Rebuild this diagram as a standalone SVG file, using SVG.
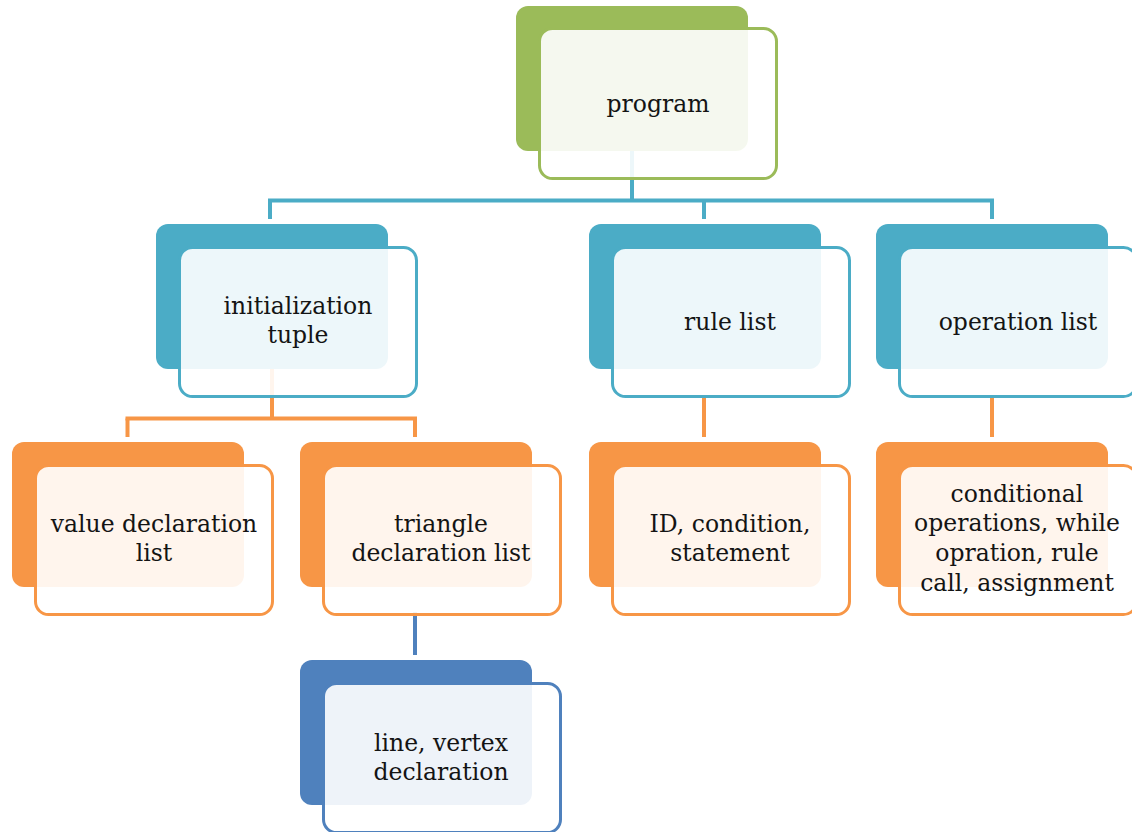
<svg xmlns="http://www.w3.org/2000/svg" width="1132" height="832" viewBox="0 0 1132 832">
<style>
.back{stroke:none}
.front{fill:#ffffff;fill-opacity:0.9;stroke-width:3}
.g .back{fill:#9BBB59}.g .front{stroke:#9BBB59}
.c .back{fill:#4BACC6}.c .front{stroke:#4BACC6}
.o .back{fill:#F79646}.o .front{stroke:#F79646}
.b .back{fill:#4F81BD}.b .front{stroke:#4F81BD}
text{font-family:"DejaVu Serif","Liberation Serif",serif;font-size:23.5px;fill:#141414;text-anchor:middle}
.conn line{stroke-width:4;fill:none}
</style>
<rect width="1132" height="832" fill="#ffffff"/>
<g id="connectors" class="conn">
<g stroke="#4BACC6">
<line x1="632" y1="150" x2="632" y2="200.5"/>
<line x1="268" y1="200.5" x2="994" y2="200.5"/>
<line x1="270" y1="200.5" x2="270" y2="219"/>
<line x1="704" y1="200.5" x2="704" y2="219"/>
<line x1="992" y1="200.5" x2="992" y2="219"/>
</g>
<g stroke="#F79646">
<line x1="272" y1="368" x2="272" y2="418.5"/>
<line x1="125.5" y1="418.5" x2="417" y2="418.5"/>
<line x1="127.5" y1="418.5" x2="127.5" y2="437"/>
<line x1="415" y1="418.5" x2="415" y2="437"/>
<line x1="704" y1="396" x2="704" y2="437"/>
<line x1="992" y1="396" x2="992" y2="437"/>
</g>
<g stroke="#4F81BD">
<line x1="415" y1="612" x2="415" y2="655"/>
</g>
</g>
<g id="n-program" class="g">
<rect class="back" x="516" y="6" width="232" height="145" rx="12"/>
<rect class="front" x="539.5" y="28.5" width="237" height="150" rx="13"/>
<text x="658" y="112">program</text>
</g>
<g id="n-init" class="c">
<rect class="back" x="156" y="224" width="232" height="145" rx="12"/>
<rect class="front" x="179.5" y="247.5" width="237" height="149" rx="13"/>
<text x="298" y="314">initialization</text>
<text x="298" y="343">tuple</text>
</g>
<g id="n-rule" class="c">
<rect class="back" x="589" y="224" width="232" height="145" rx="12"/>
<rect class="front" x="612.5" y="247.5" width="237" height="149" rx="13"/>
<text x="730" y="330">rule list</text>
</g>
<g id="n-op" class="c">
<rect class="back" x="876" y="224" width="232" height="145" rx="12"/>
<rect class="front" x="899.5" y="247.5" width="237" height="149" rx="13"/>
<text x="1018" y="330">operation list</text>
</g>
<g id="n-value" class="o">
<rect class="back" x="12" y="442" width="232" height="145" rx="12"/>
<rect class="front" x="35.5" y="465.5" width="237" height="149" rx="13"/>
<text x="154" y="532">value declaration</text>
<text x="154" y="561">list</text>
</g>
<g id="n-triangle" class="o">
<rect class="back" x="300" y="442" width="232" height="145" rx="12"/>
<rect class="front" x="323.5" y="465.5" width="237" height="149" rx="13"/>
<text x="441" y="532">triangle</text>
<text x="441" y="561">declaration list</text>
</g>
<g id="n-id" class="o">
<rect class="back" x="589" y="442" width="232" height="145" rx="12"/>
<rect class="front" x="612.5" y="465.5" width="237" height="149" rx="13"/>
<text x="730" y="532">ID, condition,</text>
<text x="730" y="561">statement</text>
</g>
<g id="n-cond" class="o">
<rect class="back" x="876" y="442" width="232" height="145" rx="12"/>
<rect class="front" x="899.5" y="465.5" width="237" height="149" rx="13"/>
<text x="1017" y="502">conditional</text>
<text x="1017" y="531">operations, while</text>
<text x="1017" y="561">opration, rule</text>
<text x="1017" y="591">call, assignment</text>
</g>
<g id="n-line" class="b">
<rect class="back" x="300" y="660" width="232" height="145" rx="12"/>
<rect class="front" x="323.5" y="683.5" width="237" height="149" rx="13"/>
<text x="441" y="751">line, vertex</text>
<text x="441" y="780">declaration</text>
</g>
</svg>
